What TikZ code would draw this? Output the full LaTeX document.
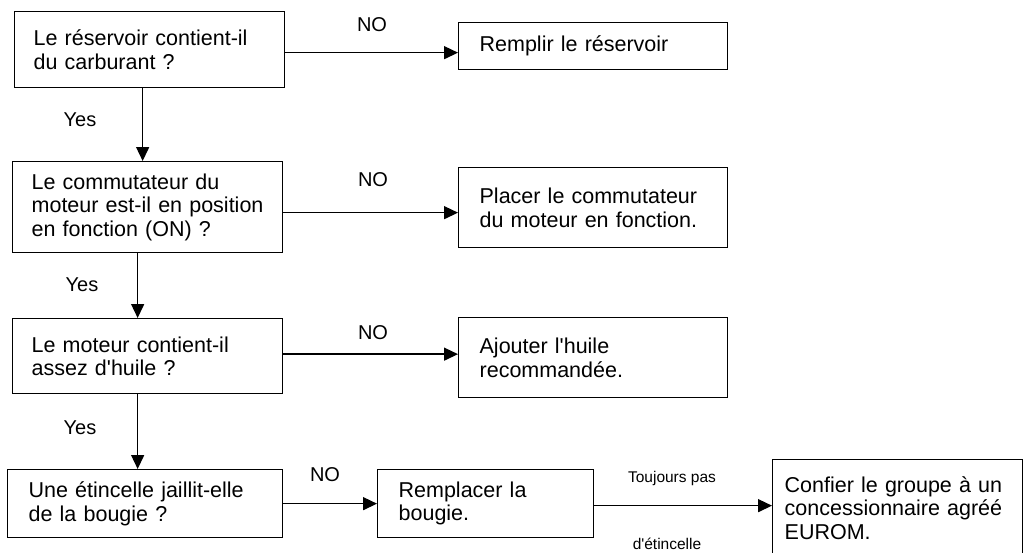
\documentclass[tikz,border=0pt]{standalone}
\usepackage{fontspec}
\setmainfont{Liberation Sans}[Ligatures=TeXOff]
\usetikzlibrary{arrows.meta}
\tikzset{
  box/.style={draw, line width=1.3pt, rectangle, anchor=north west, align=left,
    inner ysep=0pt, font=\fontsize{21.5}{23.5}\selectfont},
  lbl/.style={inner sep=0pt, font=\fontsize{20}{22}\selectfont},
  small/.style={inner sep=0pt, font=\fontsize{15.5}{17}\selectfont},
  arr/.style={line width=1.4pt, -{Triangle[length=14pt,width=13pt]}}
}
\begin{document}
\begin{tikzpicture}[x=1pt,y=-1pt]
\clip (0,0) rectangle (1024,552);
\fill[white] (0,0) rectangle (1024,552);

% boxes
\node[box, inner xsep=19pt, text width=232pt, minimum height=76pt] (A) at (14,11)
  {Le réservoir contient-il\\du carburant ?};
\node[box, inner xsep=21pt, text width=227pt, minimum height=47pt] (B) at (458,22)
  {Remplir le réservoir};
\node[box, inner xsep=19pt, text width=232pt, minimum height=91pt] (C) at (12,161)
  {Le commutateur du\\moteur est-il en position\\en fonction (ON) ?};
\node[box, inner xsep=21pt, text width=227pt, minimum height=80pt] (D) at (458,167)
  {Placer le commutateur\\du moteur en fonction.};
\node[box, inner xsep=19pt, text width=232pt, minimum height=75pt] (E) at (12,318)
  {Le moteur contient-il\\assez d'huile ?};
\node[box, inner xsep=21pt, text width=227pt, minimum height=80pt] (F) at (458,317)
  {Ajouter l'huile\\recommandée.};
\node[box, inner xsep=21pt, text width=233pt, minimum height=68pt] (G) at (7,469)
  {Une étincelle jaillit-elle\\de la bougie ?};
\node[box, inner xsep=21pt, text width=174pt, minimum height=68pt] (H) at (377,469)
  {Remplacer la\\bougie.};
\node[box, inner xsep=12pt, text width=226pt, minimum height=97pt] (I) at (772,459)
  {Confier le groupe à un\\concessionnaire agréé\\EUROM.};

% horizontal connectors
\coordinate (ab) at ([yshift=-3pt]A.east);
\draw[arr] (ab) -- (ab -| B.west);
\coordinate (cd) at ([yshift=-5.5pt]C.east);
\draw[arr] (cd) -- (cd -| D.west);
\coordinate (ef) at ([yshift=2pt]E.east);
\draw[arr] (ef) -- (ef -| F.west);
\coordinate (gh) at (G.east);
\draw[arr] (gh) -- (gh -| H.west);
\coordinate (hi) at ([yshift=-2pt]H.east);
\draw[arr] (hi) -- (hi -| I.west);

% vertical connectors
\coordinate (ac) at ([xshift=-7pt]A.south);
\draw[arr] (ac) -- (ac |- C.north);
\coordinate (ce) at ([xshift=-10pt]C.south);
\draw[arr] (ce) -- (ce |- E.north);
\coordinate (eg) at ([xshift=-10pt]E.south);
\draw[arr] (eg) -- (eg |- G.north);

% labels
\node[lbl] (no1) at (372,25) {NO};
\node[lbl] (no2) at (373,180) {NO};
\node[lbl] (no3) at (373,333) {NO};
\node[lbl] (no4) at (325,475) {NO};
\node[lbl] (yes1) at (80,120) {Yes};
\node[lbl] (yes2) at (82,285) {Yes};
\node[lbl] (yes3) at (80,428) {Yes};
\node[small] (tp) at (672,478) {Toujours pas};
\node[small] (de) at (667,544) {d'étincelle};
\end{tikzpicture}
\end{document}
